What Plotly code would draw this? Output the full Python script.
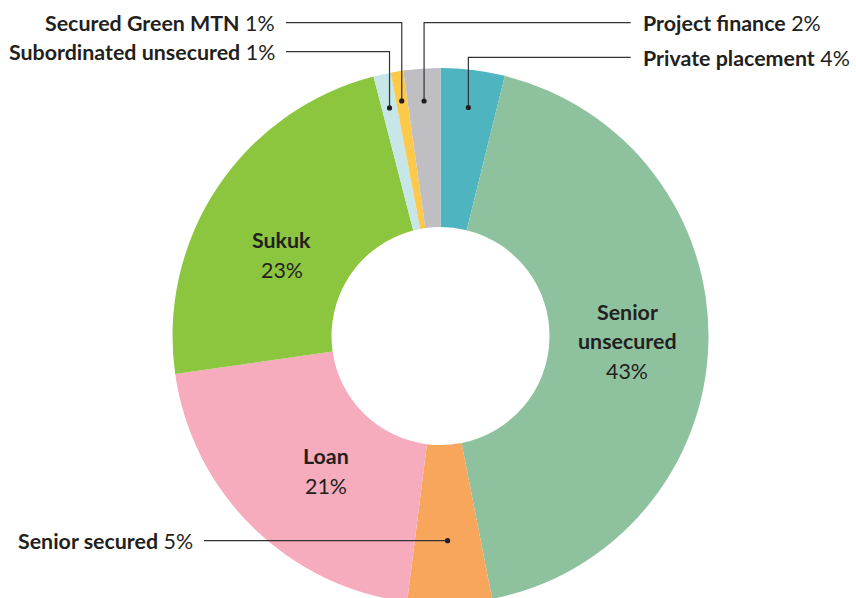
import math
import plotly.graph_objects as go

# ---- data (clockwise from 12 o'clock) ----
categories = ["Private placement", "Senior unsecured", "Senior secured", "Loan",
              "Sukuk", "Subordinated unsecured", "Secured Green MTN", "Project finance"]
shares = [3.86, 43.05, 5.08, 20.75, 23.24, 1.04, 0.76, 2.22]
pct_labels = ["4%", "43%", "5%", "21%", "23%", "1%", "1%", "2%"]
colors = ["#4db4c0", "#8ec29f", "#f8a65c", "#f6acbd", "#8cc63f", "#c6e6e8", "#fdc94b", "#bfbfc3"]

# ---- layout geometry (pixels) ----
W, H = 856, 604
CX, CY, R = 440.5, 336.0, 268.0
HOLE = 109.0 / 268.0
TXT = "#231f20"
LINE = "#333333"
FONT = "Lato"
FS = 21.4


def px(x):
    return x / W


def py(y):
    return 1 - y / H


fig = go.Figure(go.Pie(
    labels=categories, values=shares, sort=False, direction="clockwise", rotation=0,
    hole=HOLE, marker=dict(colors=colors, line=dict(width=0)),
    textinfo="none", hoverinfo="skip", showlegend=False,
    domain=dict(x=[px(CX - R), px(CX + R)], y=[max(0.0, py(CY + R)), py(CY - R)]),
))

# mid-angle of each slice from the data
total = sum(shares)
mids = {}
acc = 0.0
for name, v in zip(categories, shares):
    mids[name] = (acc + v / 2) / total
    acc += v
pct_of = dict(zip(categories, pct_labels))

shapes = []
annotations = []

# outside labels with leader lines
outside = {
    "Secured Green MTN": dict(r=0.889, y=22.7, side="left", lx=286),
    "Subordinated unsecured": dict(r=0.872, y=51.7, side="left", lx=286),
    "Project finance": dict(r=0.879, y=22.7, side="right", lx=630.7),
    "Private placement": dict(r=0.859, y=57.3, side="right", lx=630.7),
    "Senior secured": dict(r=0.764, y=None, side="left", lx=204),
}
for name, o in outside.items():
    th = 2 * math.pi * mids[name]
    dx = CX + o["r"] * R * math.sin(th)
    dy = CY - o["r"] * R * math.cos(th)
    ly = dy if o["y"] is None else o["y"]
    path = f"M {px(o['lx'])},{py(ly)} L {px(dx)},{py(ly)} L {px(dx)},{py(dy)}"
    shapes.append(dict(type="path", xref="paper", yref="paper", path=path,
                       line=dict(color=LINE, width=1.2)))
    rd = 2.6
    shapes.append(dict(type="circle", xref="paper", yref="paper",
                       x0=px(dx - rd), x1=px(dx + rd), y0=py(dy + rd), y1=py(dy - rd),
                       fillcolor=TXT, line=dict(width=0)))
    if o["side"] == "left":
        ax, anc = o["lx"] - 9, "right"
    else:
        ax, anc = o["lx"] + 10, "left"
    annotations.append(dict(
        xref="paper", yref="paper", x=px(ax), y=py(ly + 0.5), xanchor=anc, yanchor="middle",
        text=f"<b>{name}</b> {pct_of[name]}", showarrow=False,
        font=dict(family=FONT, size=FS, color=TXT, weight=400)))

# inside labels
inside = {
    "Senior unsecured": dict(x=627, lines=["<b>Senior</b>", "<b>unsecured</b>", pct_of["Senior unsecured"]], y0=311.7),
    "Sukuk": dict(x=281.7, lines=["<b>Sukuk</b>", pct_of["Sukuk"]], y0=240),
    "Loan": dict(x=326, lines=["<b>Loan</b>", pct_of["Loan"]], y0=456),
}
for name, o in inside.items():
    for i, t in enumerate(o["lines"]):
        annotations.append(dict(
            xref="paper", yref="paper", x=px(o["x"]), y=py(o["y0"] + 29.5 * i),
            xanchor="center", yanchor="middle", text=t, showarrow=False,
            font=dict(family=FONT, size=FS, color=TXT, weight=400)))

fig.update_layout(
    width=W, height=H, margin=dict(l=0, r=0, t=0, b=0),
    paper_bgcolor="white", plot_bgcolor="white",
    shapes=shapes, annotations=annotations,
)

fig.write_html("out.html", config={"displayModeBar": False},
               post_script="document.body.style.margin='0';document.body.style.overflow='hidden';")
